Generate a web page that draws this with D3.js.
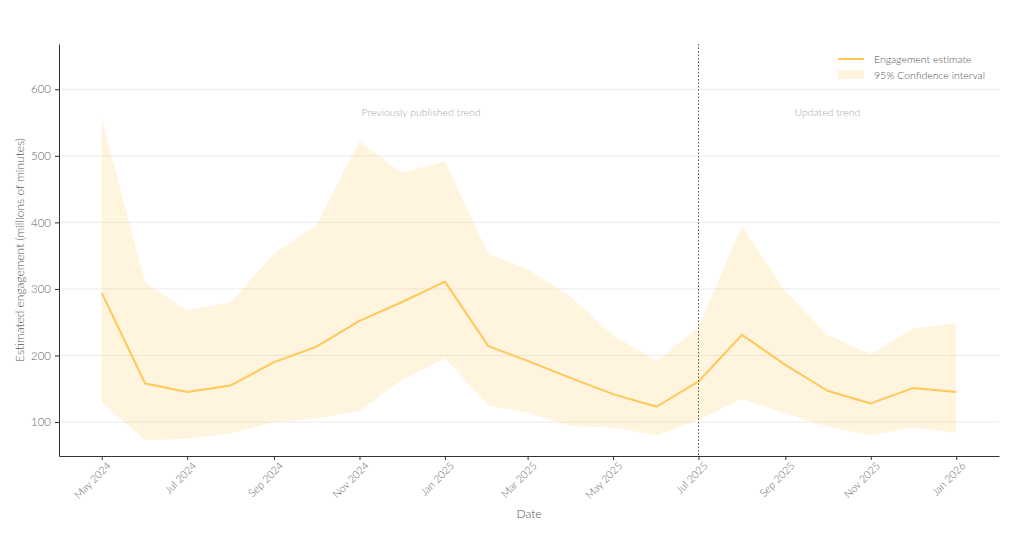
<!DOCTYPE html>
<html>
<head>
<meta charset="utf-8">
<script src="https://cdn.jsdelivr.net/npm/d3@7/dist/d3.min.js"></script>
<style>
  body { margin: 0; background: #fff; }
  svg { font-family: "Lato", "DejaVu Sans", sans-serif; font-weight: 300; }
</style>
</head>
<body>
<div id="chart"></div>
<script>
// monthly estimates, May 2024 - Jan 2026
const months = ["2024-05", "2024-06", "2024-07", "2024-08", "2024-09", "2024-10", "2024-11",
  "2024-12", "2025-01", "2025-02", "2025-03", "2025-04", "2025-05", "2025-06", "2025-07",
  "2025-08", "2025-09", "2025-10", "2025-11", "2025-12", "2026-01"];
const estimate = [294, 158, 145, 155, 190, 213, 252, 280, 311, 214, 192, 166, 142, 123, 161,
  231, 186, 147, 128, 151, 145];
const upper = [556, 309, 268, 280, 353, 395, 522, 474, 492, 352, 330, 288, 230, 192, 242,
  395, 296, 231, 202, 240, 249];
const lower = [129, 73, 75, 83, 100, 105, 117, 163, 196, 125, 114, 94, 92, 80, 103,
  135, 113, 93, 80, 92, 84];
const yTicks = [100, 200, 300, 400, 500, 600];
const xTicks = ["2024-05", "2024-07", "2024-09", "2024-11", "2025-01", "2025-03", "2025-05",
  "2025-07", "2025-09", "2025-11", "2026-01"];
const splitMonth = "2025-07";
const regionLabels = [
  {text: "Previously published trend", date: "2024-12-15"},
  {text: "Updated trend", date: "2025-10-01"}
];

const W = 1024, H = 536;
const margin = {top: 44, right: 25, bottom: 80, left: 59};
const lineColor = "#ffc857";

const parseMonth = d3.timeParse("%Y-%m");
const parseDay = d3.timeParse("%Y-%m-%d");
const data = months.map(function (m, i) {
  return {date: parseMonth(m), est: estimate[i], hi: upper[i], lo: lower[i]};
});

const svg = d3.select("#chart").append("svg")
  .attr("width", W)
  .attr("height", H);

const ext = d3.extent(data, function (d) { return d.date; });
const pad = (ext[1] - ext[0]) * 0.05;
const x = d3.scaleTime()
  .domain([new Date(+ext[0] - pad), new Date(+ext[1] + pad)])
  .range([margin.left, W - margin.right]);
const y = d3.scaleLinear()
  .domain([49, 668])
  .range([H - margin.bottom, margin.top]);

// grid
svg.append("g")
  .selectAll("line")
  .data(yTicks)
  .enter().append("line")
  .attr("x1", margin.left)
  .attr("x2", W - margin.right)
  .attr("y1", function (d) { return y(d); })
  .attr("y2", function (d) { return y(d); })
  .style("stroke", "#ececec")
  .style("stroke-width", "1px");

// confidence band
const area = d3.area()
  .x(function (d) { return x(d.date); })
  .y0(function (d) { return y(d.lo); })
  .y1(function (d) { return y(d.hi); });
svg.append("path")
  .datum(data)
  .attr("d", area)
  .style("fill", lineColor)
  .style("fill-opacity", 0.2);

// estimate line
const line = d3.line()
  .x(function (d) { return x(d.date); })
  .y(function (d) { return y(d.est); });
svg.append("path")
  .datum(data)
  .attr("d", line)
  .style("fill", "none")
  .style("stroke", lineColor)
  .style("stroke-width", "2px")
  .style("stroke-linejoin", "round");

// split marker
svg.append("line")
  .attr("x1", x(parseMonth(splitMonth)))
  .attr("x2", x(parseMonth(splitMonth)))
  .attr("y1", margin.top)
  .attr("y2", H - margin.bottom)
  .style("stroke", "#555")
  .style("stroke-width", "1px")
  .style("stroke-dasharray", "1.5,2");

svg.selectAll(".region")
  .data(regionLabels)
  .enter().append("text")
  .attr("class", "region")
  .attr("x", function (d) { return x(parseDay(d.date)); })
  .attr("y", y(566))
  .attr("dy", "0.35em")
  .attr("text-anchor", "middle")
  .style("font-size", "10.5px")
  .style("fill", "#a8a8a8")
  .text(function (d) { return d.text; });

// axes
const yAxis = svg.append("g")
  .attr("transform", "translate(" + margin.left + ",0)")
  .call(d3.axisLeft(y).tickValues(yTicks).tickSize(4).tickSizeOuter(0).tickPadding(4));
const xAxis = svg.append("g")
  .attr("transform", "translate(0," + (H - margin.bottom) + ")")
  .call(d3.axisBottom(x)
    .tickValues(xTicks.map(parseMonth))
    .tickFormat(d3.timeFormat("%b %Y"))
    .tickSize(4)
    .tickSizeOuter(0));

[yAxis, xAxis].forEach(function (ax) {
  ax.attr("color", "#333");
  ax.select(".domain").style("stroke", "#333").style("stroke-width", "1px");
  ax.selectAll(".tick line").style("stroke", "#333");
  ax.selectAll("text")
    .style("font-family", "Lato, sans-serif")
    .style("font-weight", 300)
    .style("fill", "#666");
});
yAxis.selectAll("text").style("font-size", "11.5px");
xAxis.selectAll("text")
  .style("font-size", "10.5px")
  .attr("text-anchor", "end")
  .attr("dx", "0.2em")
  .attr("dy", "0.5em")
  .attr("transform", "translate(0,4) rotate(-45)")
  .attr("y", 6);

svg.append("text")
  .attr("x", (margin.left + W - margin.right) / 2)
  .attr("y", 518)
  .attr("text-anchor", "middle")
  .style("font-size", "12px")
  .style("fill", "#555")
  .text("Date");

svg.append("text")
  .attr("transform", "translate(24," + ((margin.top + H - margin.bottom) / 2) + ") rotate(-90)")
  .attr("text-anchor", "middle")
  .style("font-size", "12px")
  .style("fill", "#555")
  .text("Estimated engagement (millions of minutes)");

// legend
const legend = svg.append("g").attr("transform", "translate(838,59)");
legend.append("line")
  .attr("x1", 0).attr("x2", 26)
  .attr("y1", 0).attr("y2", 0)
  .style("stroke", lineColor)
  .style("stroke-width", "2px");
legend.append("rect")
  .attr("x", 0).attr("y", 11)
  .attr("width", 26).attr("height", 9)
  .style("fill", lineColor)
  .style("fill-opacity", 0.2);
legend.selectAll(".lg")
  .data(["Engagement estimate", "95% Confidence interval"])
  .enter().append("text")
  .attr("x", 36)
  .attr("y", function (d, i) { return i * 16; })
  .attr("dy", "0.35em")
  .style("font-size", "10.5px")
  .style("fill", "#555")
  .text(function (d) { return d; });
</script>
</body>
</html>
